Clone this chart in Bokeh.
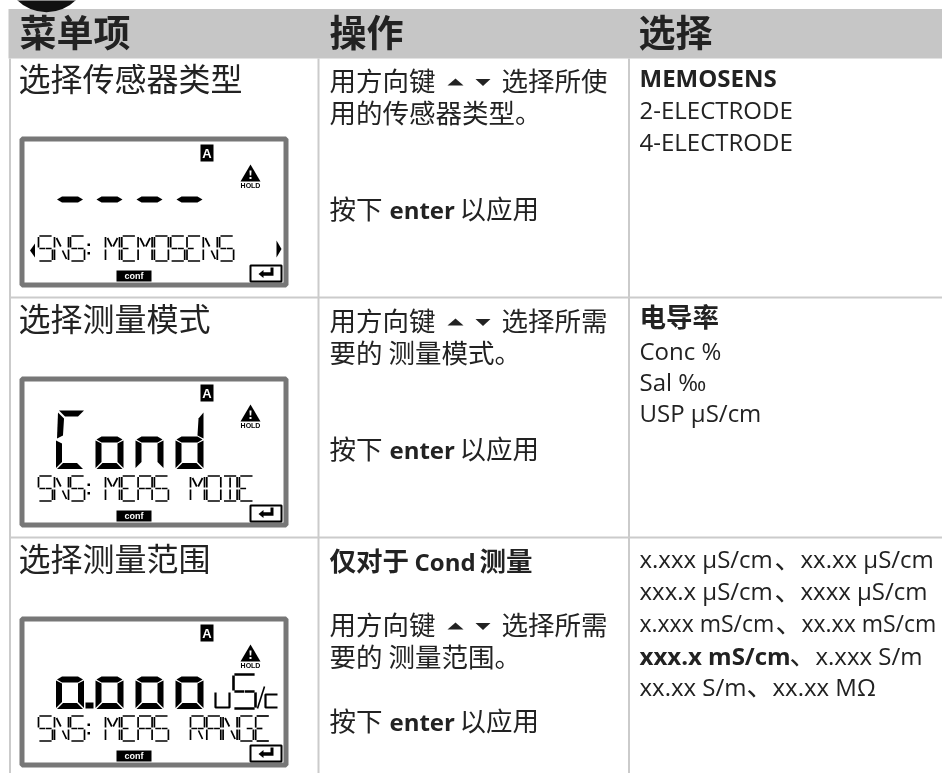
from bokeh.plotting import figure
from bokeh.embed import file_html
from bokeh.resources import INLINE
from bokeh.core.properties import value
from bokeh.models import Range1d

HEADERS = ["菜单项", "操作", "选择"]
ROW_TITLES = ["选择传感器类型", "选择测量模式", "选择测量范围"]
ARROW_PREFIX = "用方向键"
ROW1_ACTION = ["选择所使", "用的传感器类型。"]
ROW2_ACTION = ["选择所需", "要的  测量模式。"]
ROW3_ACTION_HEAD = ["仅对于", "Cond", "测量"]
ROW3_ACTION = ["选择所需", "要的  测量范围。"]
ENTER_LINE = ["按下", "enter", "以应用"]
ROW1_CHOICES = ["MEMOSENS", "2-ELECTRODE", "4-ELECTRODE"]
ROW2_CHOICES = ["电导率", "Conc %", "Sal ‰", "USP µS/cm"]
ROW3_CHOICES = [
    ["x.xxx µS/cm", "、", "xx.xx µS/cm"],
    ["xxx.x µS/cm", "、", "xxxx µS/cm"],
    ["x.xxx mS/cm", "、", "xx.xx mS/cm"],
    ["xxx.x mS/cm", "、", "x.xxx S/m"],
    ["xx.xx S/m", "、", "xx.xx MΩ"],
]
LCD_BIG = [["g"] * 4, list("Cond"), ["o"] * 4]
LCD_LINES = [
    [("SNS", 0), ("MEMOSENS", 1)],
    [("SNS", 0), ("MEAS", 1), ("MODE", 2)],
    [("SNS", 0), ("MEAS", 1), ("RANGE", 2)],
]

CJK = value("Noto Sans CJK SC")
LAT = value("Open Sans")
INK = "#222222"

p = figure(width=942, height=773, output_backend="svg", toolbar_location=None,
           x_axis_type=None, y_axis_type=None, min_border=0,
           x_range=Range1d(0, 942), y_range=Range1d(773, 0),
           background_fill_color="white", border_fill_color="white",
           outline_line_color=None, styles={"position": "fixed", "left": "0", "top": "0"})
p.grid.visible = False

# ---- table frame
p.quad(left=[8], right=[942], top=[8.5], bottom=[58], fill_color="#c6c6c6", line_color=None)
p.circle(x=[46], y=[-30], radius=41.8, fill_color="#111111", line_color=None)
for vx in (9.5, 318, 628.5):
    p.line([vx, vx], [58, 773], line_color="#cbcbcb", line_width=2)
for hy in (297, 537):
    p.line([9, 942], [hy, hy], line_color="#cbcbcb", line_width=2)


def txt(x, y, s, size, font=CJK, bold=False, color=INK, align="left"):
    if font is CJK:
        y = y - 0.1 * size
    elif font is LAT:
        y = y - 1.2
    p.text([x], [y], text=[s], text_font=font, text_font_size=f"{size}px",
           text_font_style="bold" if bold else "normal", text_color=color,
           text_baseline="middle", text_align=align)


for s, x in zip(HEADERS, (19, 329, 638)):
    txt(x, 34, s, 37, bold=True)
for s, y in zip(ROW_TITLES, (79.5, 319.5, 559.5)):
    txt(x=18, y=y, s=s, size=32)


# ---- LCD pieces
SEV = {"g": "g", "C": "afed", "o": "cdeg", "n": "ceg", "d": "bcdeg"}
FOUR = {
    "S": ["a", "f", "g1", "g2", "c", "d"],
    "N": ["f", "e", "b", "c", "h", "k"],
    "M": ["f", "e", "b", "c", "h", "i"],
    "E": ["a", "f", "g1", "e", "d"],
    "O": ["a", "b", "c", "d", "e", "f"],
    "A": ["a", "b", "c", "e", "f", "g1", "g2"],
    "D": ["a", "b", "c", "d", "j", "m"],
    "R": ["a", "b", "f", "e", "g1", "g2", "k"],
    "G": ["a", "f", "e", "d", "c", "g2"],
}


def seg_polys(x, top, mid, bot, w, name):
    r = x + w
    return {
        "a": [(x + 3, top), (r, top), (r - 6, top + 6), (x + 9, top + 6)],
        "f": [(x + 2, top + 2), (x + 8, top + 8), (x + 7, mid - 4), (x + 1, mid - 1)],
        "b": [(r, top + 2), (r, mid - 1), (r - 6, mid - 4), (r - 5, top + 8)],
        "g": [(x + 1, mid), (x + 6, mid - 3), (r - 6, mid - 3), (r - 1, mid), (r - 6, mid + 3), (x + 6, mid + 3)],
        "e": [(x, mid + 1), (x + 6, mid + 4), (x + 6, bot - 7), (x, bot - 1)],
        "c": [(r, mid + 1), (r, bot - 1), (r - 6, bot - 7), (r - 6, mid + 4)],
        "d": [(x + 1, bot), (x + 7, bot - 6), (r - 7, bot - 6), (r - 1, bot)],
    }[name]


def poly(pts, color="black"):
    p.patch([q[0] for q in pts], [q[1] for q in pts], fill_color=color, line_color=None)


def stroke(pts, width=1.7, color="black"):
    p.line([q[0] for q in pts], [q[1] for q in pts], line_color=color, line_width=width)


def four_seg(x, y, w, h, ch, lw=1.7):
    r, b, m, c = x + w, y + h, y + h / 2, x + w / 2
    g = 0.9
    lines = {
        "a": [(x + g, y), (r - g, y)], "d": [(x + g, b), (r - g, b)],
        "f": [(x, y + g), (x, m - g)], "e": [(x, m + g), (x, b - g)],
        "b": [(r, y + g), (r, m - g)], "c": [(r, m + g), (r, b - g)],
        "g1": [(x + g, m), (c - 0.3, m)], "g2": [(c + 0.3, m), (r - g, m)],
        "h": [(x + 2, y + 2), (c - 0.7, m - 2)], "i": [(r - 2, y + 2), (c + 0.7, m - 2)],
        "j": [(c, y + 1.5), (c, m - 1)], "m": [(c, m + 1), (c, b - 1.5)],
        "k": [(c + 1, m + 2), (r - 2, b - 2)],
    }
    for n in FOUR[ch]:
        stroke(lines[n], lw)


def lcd(py, big, words):
    px = 19
    p.quad(left=[px + 2.5], right=[px + 266.5], top=[py + 2.5], bottom=[py + 148.5],
           fill_color="white", line_color="#777777", line_width=5)
    # A flag
    p.quad(left=[px + 181], right=[px + 194], top=[py + 8], bottom=[py + 25], fill_color="black", line_color=None)
    txt(px + 187.5, py + 17, "A", 13, font=value("Liberation Sans"), bold=True, color="white", align="center")
    # warning triangle
    poly([(px + 231, py + 28), (px + 241, py + 45), (px + 221, py + 45)])
    poly([(px + 230, py + 34), (px + 232, py + 34), (px + 231.7, py + 39), (px + 230.3, py + 39)], "white")
    poly([(px + 230, py + 40.5), (px + 232, py + 40.5), (px + 232, py + 42.5), (px + 230, py + 42.5)], "white")
    txt(px + 231, py + 48.5, "HOLD", 7, font=value("Liberation Sans"), bold=True, color="black", align="center")
    # conf
    p.quad(left=[px + 97], right=[px + 132], top=[py + 134], bottom=[py + 145], fill_color="black", line_color=None)
    txt(px + 114.5, py + 139.5, "conf", 9, font=value("Liberation Sans"), bold=True, color="white", align="center")
    # enter key
    p.quad(left=[px + 231], right=[px + 262], top=[py + 129], bottom=[py + 145], fill_color="white",
           line_color="black", line_width=2)
    poly([(px + 239, py + 137.5), (px + 244, py + 133.5), (px + 244, py + 135.8), (px + 251, py + 135.8),
          (px + 251, py + 131), (px + 254, py + 131), (px + 254, py + 139.2), (px + 244, py + 139.2),
          (px + 244, py + 141.5)])
    # big digits
    for ch, dx in zip(big, (36.5, 76, 116, 156)):
        for n in SEV[ch]:
            poly(seg_polys(px + dx, py + 34, py + 63, py + 92.5, 28, n))
    # 14-seg line
    starts = {0: [19, 35, 51], 1: 86, 2: 171}
    for word, k in words:
        for i, ch in enumerate(word):
            cx = starts[0][i] if k == 0 else starts[k] + i * 16.3
            four_seg(px + cx, py + 99.5, 14, 25, ch)
    poly([(px + 68, py + 107), (px + 70.5, py + 107), (px + 70.5, py + 109.5), (px + 68, py + 109.5)])
    poly([(px + 68, py + 115.5), (px + 70.5, py + 115.5), (px + 70.5, py + 118), (px + 68, py + 118)])


for py, big, words in zip((136, 376, 616), LCD_BIG, LCD_LINES):
    lcd(py, big, words)

# row 1 scroll arrows
poly([(34.5, 243), (29.5, 250), (34.5, 257)])
poly([(276, 240), (281, 248.5), (276, 257)])
# row 3 decimal point and units
py3, px3 = 616, 19
poly([(px3 + 66, py3 + 86), (px3 + 74, py3 + 86), (px3 + 74, py3 + 92), (px3 + 66, py3 + 92)])
stroke([(px3 + 196, py3 + 76), (px3 + 196, py3 + 91), (px3 + 210, py3 + 91), (px3 + 210, py3 + 76)], 2.2)
four_seg(px3 + 214, py3 + 58, 22, 34, "S", 2.6)
stroke([(px3 + 238, py3 + 92), (px3 + 245, py3 + 70)], 1.6)
stroke([(px3 + 258, py3 + 78), (px3 + 246, py3 + 78), (px3 + 246, py3 + 91), (px3 + 258, py3 + 91)], 2.2)


# ---- action column
def updown(y):
    poly([(447, y + 3.5), (455, y - 3.5), (463, y + 3.5)], "#222222")
    poly([(475, y - 3), (490, y - 3), (482.5, y + 4)], "#222222")


BODY = 26.5
for y0, lines in ((81.5, ROW1_ACTION), (321.5, ROW2_ACTION), (625.5, ROW3_ACTION)):
    txt(329, y0, ARROW_PREFIX, BODY)
    updown(y0)
    txt(501, y0, lines[0], BODY)
    txt(329, y0 + 32, lines[1], BODY)
for y in (209.5, 449.5, 721.5):
    txt(329, y, ENTER_LINE[0], BODY)
    txt(389, y + 0.5, ENTER_LINE[1], 24, font=LAT, bold=True)
    txt(459, y, ENTER_LINE[2], BODY)
txt(329, 561.5, ROW3_ACTION_HEAD[0], BODY, bold=True)
txt(414, 562, ROW3_ACTION_HEAD[1], 24, font=LAT, bold=True)
txt(479, 561.5, ROW3_ACTION_HEAD[2], BODY, bold=True)

# ---- choice column
LATIN = 24
X3 = 639
txt(X3, 78, ROW1_CHOICES[0], LATIN, font=LAT, bold=True)
txt(X3, 110.5, ROW1_CHOICES[1], LATIN, font=LAT)
txt(X3, 142.5, ROW1_CHOICES[2], LATIN, font=LAT)
txt(X3, 318, ROW2_CHOICES[0], BODY, bold=True)
for s, y in zip(ROW2_CHOICES[1:], (351, 382, 413)):
    txt(X3, y, s, LATIN, font=LAT)
for i, (parts, y, x2) in enumerate(zip(ROW3_CHOICES, (559.3, 591.5, 623.3, 656, 687), (800, 800, 801, 815, 772))):
    size = 23 if i == 2 else LATIN
    txt(X3, y, parts[0], size, font=LAT, bold=(i == 3))
    txt(x2 - 26, y, parts[1], BODY)
    txt(x2, y, parts[2], size, font=LAT)

open("out.html", "w").write(file_html(p, INLINE))
